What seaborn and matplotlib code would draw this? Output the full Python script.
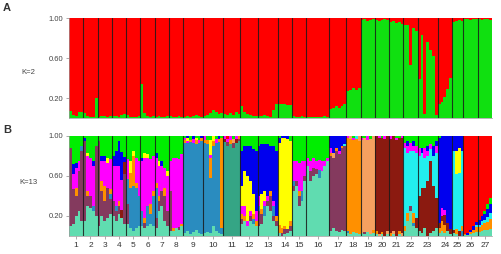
import numpy as np
import pandas as pd
import seaborn as sns
import matplotlib
matplotlib.use('Agg')
import matplotlib.pyplot as plt

# Cluster codes in stacking order (bottom -> top) for K=13
k13_order = ['aq', 'sg', 'mr', 'sb', 'or', 'sa', 'br', 'cy', 'mg', 'ye', 'bl', 'gr', 'rd']
k13_colors = {
    'aq': '#60dcb0', 'sg': '#35a585', 'mr': '#843a5e', 'sb': '#2a8cbf',
    'or': '#ff9000', 'sa': '#f5a060', 'br': '#8b1a10', 'cy': '#22eeee',
    'mg': '#ff00ff', 'ye': '#ffff00', 'bl': '#0000ee', 'gr': '#00ee00',
    'rd': '#ff0000',
}
k2_colors = {'green': '#10e010', 'red': '#ff0000'}

pop_labels = [str(i) for i in range(1, 28)]

# K=2: green membership (%) of each individual, one list per population
k2_green = [
    [7, 3, 2, 6, 6],
    [5, 2, 1, 1, 20],
    [1, 2, 2, 1, 2],
    [2, 2, 1, 3, 4],
    [3, 1, 1, 1, 2],
    [34, 5, 2, 1, 2],
    [1, 2, 1, 1, 2],
    [2, 1, 1, 2, 1],
    [1, 2, 1, 2, 3, 2, 1],
    [2, 3, 5, 8, 6, 4, 5],
    [4, 3, 5, 3, 6, 4],
    [12, 6, 4, 3, 2, 2],
    [2, 2, 3, 2, 1, 8, 14],
    [14, 14, 14, 13, 13],
    [2, 1, 1, 2, 1],
    [1, 1, 1, 1, 1, 1, 2, 1],
    [9, 10, 12, 10, 12, 14],
    [27, 28, 30, 28, 30],
    [98, 99, 97, 98, 99],
    [98, 97, 98, 99, 98],
    [96, 97, 95, 96, 94],
    [93, 93, 53, 90, 87],
    [39, 83, 4, 76, 68, 62, 3],
    [14, 16, 21, 29, 40],
    [96, 97, 98, 97],
    [99, 99, 98, 99, 99],
    [99, 98, 99, 99, 98],
]

# K=13: membership (%) per individual, one list per population
k13_pops = [
    # 1
    [{'aq': 10, 'mr': 78, 'gr': 12},
     {'aq': 12, 'mr': 35, 'mg': 15, 'bl': 10, 'gr': 28},
     {'aq': 20, 'mr': 20, 'or': 8, 'mg': 20, 'bl': 5, 'gr': 27},
     {'aq': 25, 'mr': 40, 'mg': 10, 'gr': 25},
     {'aq': 15, 'mr': 70, 'sb': 5, 'gr': 10}],
    # 2
    [{'aq': 15, 'mr': 80, 'bl': 3, 'gr': 2},
     {'aq': 30, 'mr': 10, 'or': 5, 'mg': 35, 'ye': 3, 'gr': 17},
     {'aq': 28, 'mr': 12, 'mg': 38, 'gr': 22},
     {'aq': 25, 'sb': 5, 'mg': 40, 'bl': 5, 'gr': 25},
     {'aq': 20, 'mr': 70, 'gr': 10}],
    # 3
    [{'aq': 10, 'mr': 85, 'gr': 5},
     {'aq': 20, 'mr': 25, 'or': 10, 'mg': 20, 'bl': 5, 'gr': 20},
     {'aq': 15, 'mr': 20, 'or': 15, 'mg': 25, 'bl': 5, 'gr': 20},
     {'aq': 18, 'mr': 30, 'mg': 25, 'ye': 5, 'gr': 22},
     {'aq': 22, 'mr': 15, 'sb': 5, 'or': 5, 'mg': 30, 'gr': 23}],
    # 4
    [{'aq': 20, 'mr': 15, 'mg': 35, 'bl': 10, 'gr': 20},
     {'aq': 15, 'mr': 10, 'sb': 5, 'mg': 40, 'bl': 15, 'gr': 15},
     {'aq': 22, 'mr': 8, 'or': 5, 'mg': 35, 'bl': 25, 'gr': 5},
     {'aq': 18, 'br': 8, 'mg': 30, 'bl': 28, 'gr': 16},
     {'aq': 12, 'mr': 50, 'br': 12, 'bl': 5, 'gr': 21}],
    # 5
    [{'aq': 12, 'mr': 20, 'sb': 25, 'mg': 20, 'gr': 23},
     {'aq': 8, 'sb': 40, 'or': 15, 'ye': 12, 'gr': 25},
     {'aq': 5, 'sb': 45, 'or': 30, 'ye': 5, 'gr': 15},
     {'aq': 8, 'sb': 40, 'or': 5, 'mg': 25, 'gr': 22},
     {'aq': 10, 'sb': 30, 'mg': 35, 'gr': 25}],
    # 6
    [{'aq': 10, 'sb': 15, 'mg': 50, 'bl': 3, 'gr': 22},
     {'aq': 8, 'mr': 5, 'or': 5, 'mg': 60, 'ye': 5, 'gr': 17},
     {'aq': 10, 'sb': 20, 'mg': 48, 'ye': 4, 'gr': 18},
     {'aq': 12, 'sb': 10, 'or': 10, 'mg': 45, 'gr': 23},
     {'aq': 10, 'sb': 30, 'or': 5, 'mg': 35, 'gr': 20}],
    # 7
    [{'aq': 8, 'mr': 10, 'sb': 30, 'or': 5, 'mg': 25, 'bl': 5, 'gr': 17},
     {'aq': 25, 'mr': 10, 'or': 5, 'mg': 30, 'ye': 5, 'gr': 25},
     {'aq': 30, 'mr': 15, 'mg': 25, 'bl': 5, 'gr': 25},
     {'aq': 15, 'mr': 25, 'or': 8, 'mg': 20, 'gr': 32},
     {'aq': 10, 'mr': 15, 'mg': 35, 'ye': 5, 'gr': 35}],
    # 8
    [{'aq': 5, 'mr': 40, 'mg': 30, 'gr': 25},
     {'aq': 5, 'or': 3, 'mg': 70, 'gr': 22},
     {'aq': 8, 'mg': 70, 'gr': 22},
     {'aq': 6, 'mr': 3, 'mg': 68, 'gr': 23},
     {'aq': 10, 'or': 2, 'mg': 70, 'gr': 18}],
    # 9
    [{'aq': 3, 'sb': 90, 'or': 3, 'mg': 2, 'gr': 2},
     {'aq': 5, 'sb': 88, 'mg': 2, 'ye': 3, 'bl': 2},
     {'aq': 2, 'sb': 92, 'or': 2, 'gr': 4},
     {'aq': 4, 'sb': 89, 'mg': 4, 'bl': 3},
     {'aq': 6, 'sb': 86, 'or': 4, 'ye': 2, 'gr': 2},
     {'aq': 3, 'sb': 90, 'mg': 3, 'gr': 4},
     {'aq': 2, 'sb': 93, 'or': 3, 'bl': 2}],
    # 10
    [{'aq': 3, 'sb': 90, 'or': 3, 'mg': 4},
     {'aq': 4, 'sb': 88, 'or': 4, 'gr': 4},
     {'aq': 3, 'sb': 55, 'or': 20, 'mg': 3, 'ye': 15, 'gr': 4},
     {'aq': 10, 'sb': 80, 'or': 5, 'ye': 5},
     {'aq': 5, 'sb': 88, 'mg': 4, 'gr': 3},
     {'aq': 3, 'sb': 91, 'or': 3, 'bl': 3},
     {'aq': 2, 'sb': 6, 'or': 90, 'gr': 2}],
    # 11
    [{'sg': 94, 'br': 3, 'mg': 3},
     {'sg': 90, 'mr': 4, 'mg': 3, 'rd': 3},
     {'sg': 92, 'or': 4, 'mg': 4},
     {'sg': 88, 'mr': 5, 'sa': 4, 'gr': 3},
     {'sg': 93, 'br': 4, 'mg': 3},
     {'sg': 95, 'mr': 2, 'or': 3}],
    # 12
    [{'aq': 12, 'mr': 5, 'or': 5, 'mg': 8, 'ye': 20, 'bl': 35, 'gr': 15},
     {'aq': 15, 'or': 5, 'mg': 10, 'ye': 35, 'bl': 25, 'gr': 10},
     {'aq': 10, 'mg': 5, 'ye': 45, 'bl': 30, 'gr': 10},
     {'aq': 15, 'mr': 5, 'mg': 5, 'ye': 30, 'bl': 35, 'gr': 10},
     {'aq': 12, 'sb': 5, 'or': 5, 'ye': 20, 'bl': 45, 'gr': 13},
     {'aq': 10, 'or': 5, 'mg': 10, 'bl': 60, 'gr': 15}],
    # 13
    [{'aq': 10, 'mr': 15, 'sb': 5, 'mg': 10, 'bl': 50, 'gr': 10},
     {'aq': 12, 'mr': 10, 'or': 5, 'ye': 15, 'bl': 50, 'gr': 8},
     {'aq': 20, 'sb': 10, 'mg': 5, 'ye': 10, 'bl': 47, 'gr': 8},
     {'aq': 30, 'mr': 5, 'mg': 5, 'bl': 52, 'gr': 8},
     {'aq': 25, 'mr': 15, 'or': 5, 'bl': 45, 'gr': 10},
     {'aq': 15, 'mr': 5, 'sb': 10, 'mg': 5, 'bl': 55, 'gr': 10},
     {'aq': 10, 'mr': 5, 'or': 5, 'bl': 65, 'gr': 15}],
    # 14
    [{'aq': 3, 'or': 8, 'ye': 82, 'bl': 5, 'gr': 2},
     {'mr': 3, 'or': 5, 'ye': 90, 'bl': 2},
     {'aq': 2, 'mr': 5, 'or': 3, 'ye': 88, 'bl': 2},
     {'aq': 3, 'mr': 4, 'ye': 90, 'bl': 3},
     {'aq': 5, 'mr': 5, 'or': 5, 'ye': 80, 'gr': 5}],
    # 15
    [{'aq': 45, 'sb': 5, 'mr': 5, 'mg': 20, 'gr': 25},
     {'aq': 50, 'mr': 5, 'mg': 20, 'gr': 25},
     {'aq': 30, 'mr': 10, 'or': 5, 'mg': 28, 'gr': 27},
     {'aq': 35, 'sb': 10, 'mg': 30, 'gr': 25},
     {'aq': 55, 'mr': 5, 'mg': 15, 'gr': 25}],
    # 16
    [{'aq': 70, 'mg': 8, 'gr': 22},
     {'aq': 55, 'mr': 10, 'mg': 10, 'gr': 25},
     {'aq': 60, 'mr': 8, 'mg': 10, 'gr': 22},
     {'aq': 62, 'mr': 5, 'mg': 8, 'gr': 25},
     {'aq': 58, 'sb': 8, 'mg': 10, 'gr': 24},
     {'aq': 65, 'mg': 10, 'gr': 25},
     {'aq': 70, 'mg': 5, 'gr': 25},
     {'aq': 75, 'mg': 3, 'gr': 22}],
    # 17
    [{'aq': 5, 'mr': 75, 'or': 3, 'mg': 5, 'bl': 12},
     {'aq': 8, 'mr': 70, 'sa': 5, 'bl': 17},
     {'aq': 5, 'mr': 80, 'or': 3, 'bl': 12},
     {'aq': 4, 'mr': 78, 'mg': 3, 'bl': 15},
     {'aq': 6, 'mr': 82, 'or': 2, 'bl': 10},
     {'aq': 5, 'mr': 85, 'cy': 2, 'bl': 8}],
    # 18
    [{'aq': 3, 'sb': 2, 'or': 93, 'mg': 2},
     {'aq': 2, 'or': 95, 'sa': 3},
     {'aq': 4, 'or': 92, 'mg': 2, 'gr': 2},
     {'aq': 3, 'or': 94, 'cy': 3},
     {'aq': 2, 'or': 93, 'sa': 5}],
    # 19
    [{'aq': 3, 'sa': 93, 'mg': 2, 'gr': 2},
     {'aq': 2, 'mr': 2, 'sa': 94, 'gr': 2},
     {'aq': 4, 'sa': 92, 'mg': 4},
     {'aq': 2, 'sa': 95, 'gr': 3},
     {'aq': 3, 'or': 3, 'sa': 94}],
    # 20
    [{'aq': 2, 'or': 3, 'br': 95},
     {'sa': 2, 'br': 96, 'mg': 2},
     {'aq': 2, 'or': 2, 'br': 94, 'gr': 2},
     {'br': 97, 'mg': 3},
     {'aq': 2, 'sa': 3, 'br': 95}],
    # 21
    [{'or': 3, 'br': 94, 'mg': 3},
     {'aq': 2, 'sa': 3, 'br': 95},
     {'br': 96, 'mg': 2, 'gr': 2},
     {'aq': 2, 'or': 3, 'br': 93, 'gr': 2},
     {'sa': 3, 'br': 95, 'mg': 2}],
    # 22
    [{'aq': 5, 'or': 5, 'cy': 78, 'mg': 5, 'gr': 7},
     {'aq': 15, 'or': 8, 'cy': 60, 'mg': 7, 'bl': 5, 'gr': 5},
     {'aq': 25, 'mr': 5, 'cy': 55, 'mg': 8, 'gr': 7},
     {'aq': 10, 'sb': 3, 'or': 10, 'cy': 62, 'mg': 5, 'bl': 5, 'gr': 5},
     {'aq': 8, 'br': 10, 'cy': 65, 'mg': 7, 'gr': 10}],
    # 23
    [{'aq': 5, 'br': 35, 'cy': 40, 'mg': 8, 'gr': 12},
     {'aq': 3, 'br': 45, 'cy': 35, 'bl': 5, 'gr': 12},
     {'aq': 8, 'br': 40, 'cy': 30, 'mg': 10, 'gr': 12},
     {'br': 55, 'cy': 25, 'mg': 5, 'bl': 5, 'gr': 10},
     {'aq': 3, 'br': 72, 'cy': 12, 'mg': 5, 'gr': 8},
     {'aq': 5, 'br': 45, 'cy': 30, 'bl': 10, 'gr': 10},
     {'aq': 8, 'br': 30, 'cy': 45, 'mg': 7, 'bl': 5, 'gr': 5}],
    # 24
    [{'aq': 3, 'or': 5, 'br': 5, 'bl': 85, 'gr': 2},
     {'aq': 5, 'or': 10, 'br': 5, 'mg': 8, 'bl': 72},
     {'aq': 3, 'or': 8, 'br': 10, 'mg': 5, 'bl': 74},
     {'aq': 5, 'br': 8, 'bl': 87},
     {'aq': 2, 'br': 5, 'bl': 93}],
    # 25
    [{'aq': 3, 'br': 3, 'cy': 79, 'bl': 15},
     {'aq': 2, 'or': 5, 'cy': 55, 'ye': 23, 'bl': 15},
     {'br': 5, 'cy': 58, 'ye': 25, 'bl': 12},
     {'sb': 5, 'or': 5, 'cy': 75, 'bl': 15}],
    # 26
    [{'aq': 1, 'or': 1, 'rd': 98},
     {'aq': 1, 'bl': 2, 'rd': 97},
     {'aq': 2, 'or': 2, 'bl': 2, 'rd': 94},
     {'aq': 3, 'or': 3, 'bl': 4, 'rd': 90},
     {'aq': 4, 'or': 5, 'cy': 2, 'bl': 3, 'rd': 86}],
    # 27
    [{'aq': 4, 'or': 5, 'cy': 2, 'bl': 5, 'rd': 84},
     {'aq': 5, 'or': 6, 'cy': 4, 'bl': 5, 'rd': 80},
     {'aq': 6, 'or': 7, 'cy': 3, 'bl': 6, 'gr': 3, 'rd': 75},
     {'aq': 6, 'or': 8, 'cy': 5, 'bl': 8, 'gr': 5, 'rd': 68},
     {'aq': 7, 'or': 10, 'cy': 6, 'bl': 9, 'gr': 6, 'rd': 62}],
]

# long tables for seaborn
rows_a = []
i = 0
for pop in k2_green:
    for g in pop:
        rows_a.append({'ind': i, 'cluster': 'green', 'q': g / 100})
        rows_a.append({'ind': i, 'cluster': 'red', 'q': 1 - g / 100})
        i += 1
df_a = pd.DataFrame(rows_a)

rows_b = []
i = 0
for pop in k13_pops:
    for ind in pop:
        tot = sum(ind.values())
        for k, v in ind.items():
            rows_b.append({'ind': i, 'cluster': k, 'q': v / tot})
        i += 1
df_b = pd.DataFrame(rows_b)

sizes = [len(p) for p in k13_pops]
edges = np.concatenate([[0], np.cumsum(sizes)]) - 0.5
centers = (edges[:-1] + edges[1:]) / 2
n_ind = sum(sizes)

sns.set_style('white')
plt.rcParams['font.family'] = ['Liberation Sans', 'DejaVu Sans']

W, H = 502, 254
fig = plt.figure(figsize=(W / 100, H / 100), dpi=100)
ax_a = fig.add_axes([69 / W, 1 - 118 / H, 423 / W, 100 / H])
ax_b = fig.add_axes([69 / W, 1 - 236 / H, 423 / W, 100 / H])

# seaborn stacks the first hue level on top
sns.histplot(data=df_a, x='ind', weights='q', hue='cluster',
             hue_order=['red', 'green'], palette=k2_colors,
             multiple='stack', discrete=True, shrink=1, alpha=1,
             linewidth=0, antialiased=False, legend=False, ax=ax_a)
sns.histplot(data=df_b, x='ind', weights='q', hue='cluster',
             hue_order=k13_order[::-1], palette=k13_colors,
             multiple='stack', discrete=True, shrink=1, alpha=1,
             linewidth=0, antialiased=False, legend=False, ax=ax_b)

for ax in (ax_a, ax_b):
    ax.set_xlim(-0.5, n_ind - 0.5)
    ax.set_ylim(0, 1)
    for e in edges[1:-1]:
        ax.axvline(e, color='#1a1a1a', lw=0.8, alpha=0.85)
    ax.set_xlabel('')
    ax.set_ylabel('')
    ax.set_yticks([0.2, 0.6, 1.0])
    ax.set_yticklabels(['0.20', '0.60', '1.00'])
    ax.tick_params(axis='y', length=2, width=0.5, pad=2, labelsize=5.5,
                   labelcolor='#444444', color='#888888', left=True)
    for s in ['top', 'right']:
        ax.spines[s].set_visible(False)
    ax.spines['left'].set_color('#999999')
    ax.spines['left'].set_linewidth(0.5)
    ax.spines['bottom'].set_color('#999999')
    ax.spines['bottom'].set_linewidth(0.5)

ax_a.set_xticks([])
ax_b.set_xticks(centers)
ax_b.set_xticklabels(pop_labels)
ax_b.tick_params(axis='x', length=2, width=0.5, pad=2, labelsize=6,
                 labelcolor='#333333', color='#888888', bottom=True)

fig.text(3 / W, 1 - 8 / H, 'A', fontsize=8, fontweight='bold',
         color='#333333', va='center', ha='left')
fig.text(3 / W, 1 - 130 / H, 'B', fontsize=8, fontweight='bold',
         color='#333333', va='center', ha='left')
fig.text(28 / W, 1 - 73 / H, 'K=2', fontsize=5.5, color='#444444',
         va='center', ha='center')
fig.text(28 / W, 1 - 182 / H, 'K=13', fontsize=5.5, color='#444444',
         va='center', ha='center')

fig.savefig('out.png', dpi=100)
plt.close()
